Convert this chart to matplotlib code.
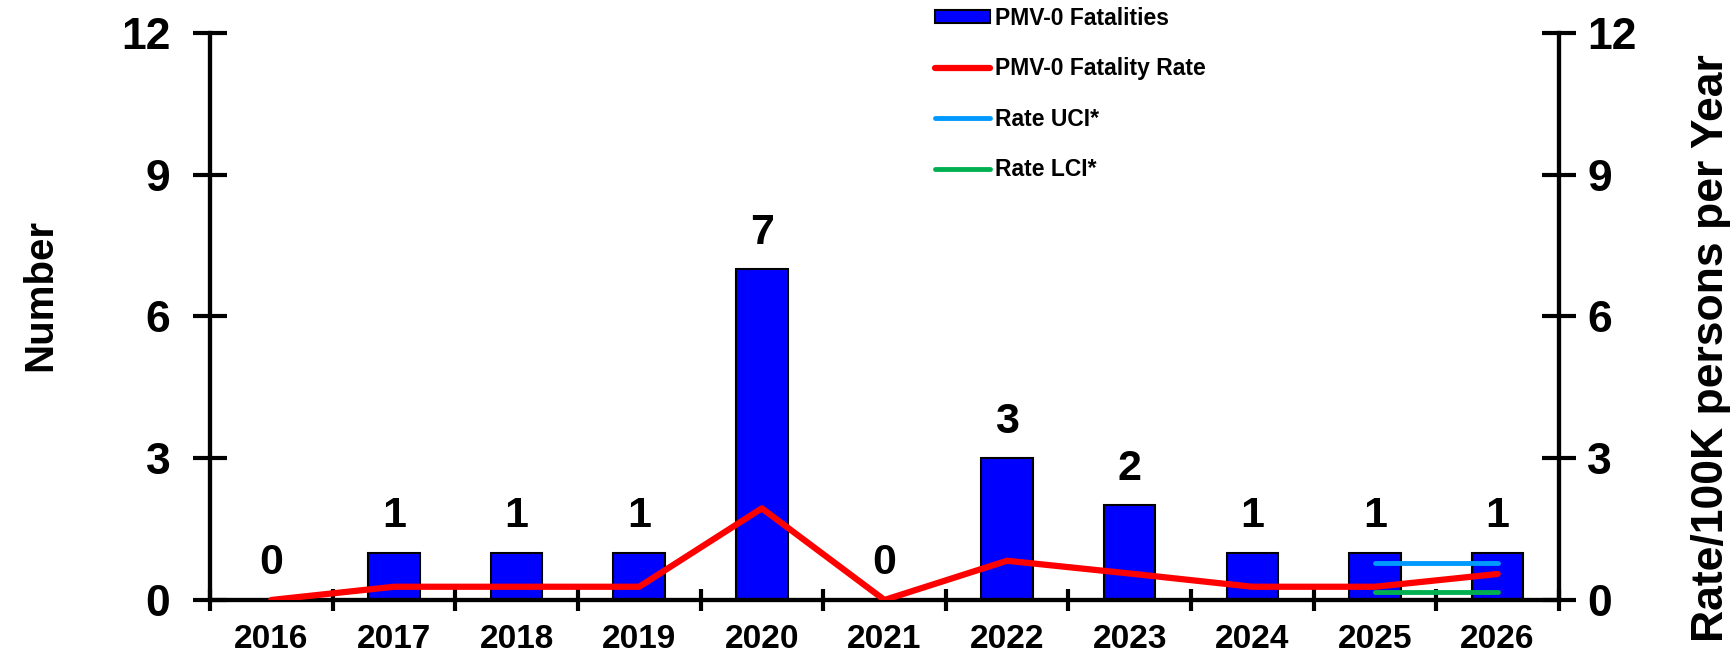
import matplotlib
matplotlib.use("Agg")
import matplotlib.pyplot as plt
import numpy as np

plt.rcParams['font.family'] = ['Liberation Sans', 'DejaVu Sans']
plt.rcParams['font.weight'] = 'bold'

years = ['2016', '2017', '2018', '2019', '2020', '2021', '2022', '2023', '2024', '2025', '2026']
fatalities = [0, 1, 1, 1, 7, 0, 3, 2, 1, 1, 1]
fatality_rate = [0.0, 0.28, 0.28, 0.28, 1.94, 0.0, 0.83, 0.56, 0.28, 0.28, 0.55]
ci_years = ['2025', '2026']
rate_uci = [0.78, 0.78]
rate_lci = [0.16, 0.16]

x = np.arange(len(years))
ci_x = [years.index(y) for y in ci_years]

fig = plt.figure(figsize=(17.31, 6.56), dpi=100)
ax = fig.add_axes([0.1213, 0.0854, 0.7793, 0.8643])
ax2 = ax.twinx()

bars = ax.bar(x, fatalities, width=0.42, color='#0000FF', edgecolor='black',
              linewidth=1.5, zorder=2, label='PMV-0 Fatalities')
for xi, v in zip(x, fatalities):
    ax.annotate(str(v), (xi, v), xytext=(0, 12), textcoords='offset points',
                ha='center', va='bottom', fontsize=31, fontweight='bold')

rate_line, = ax2.plot(x, fatality_rate, color='#FF0000', lw=4.5,
                      solid_capstyle='round', label='PMV-0 Fatality Rate', zorder=3)
uci_line, = ax2.plot(ci_x, rate_uci, color='#0099FF', lw=3.5,
                     solid_capstyle='round', label='Rate UCI*')
lci_line, = ax2.plot(ci_x, rate_lci, color='#00B050', lw=3.5,
                     solid_capstyle='round', label='Rate LCI*')

for a in (ax, ax2):
    a.set_xlim(-0.5, len(years) - 0.5)
    a.set_ylim(0, 12)
    a.set_yticks([0, 3, 6, 9, 12])
    a.spines['top'].set_visible(False)
    for s in a.spines.values():
        s.set_linewidth(3)

ax.set_xticks(x)
ax.set_xticklabels(years, fontsize=24, fontweight='bold')
ax.set_xticks(np.arange(-0.5, len(years)), minor=True)
ax.tick_params(axis='x', which='major', length=0, pad=17)
ax.tick_params(axis='x', which='minor', direction='inout', length=16, width=3)
ax.tick_params(axis='y', direction='inout', length=25, width=3, labelsize=32, pad=16)
ax2.tick_params(axis='y', direction='inout', length=25, width=3, labelsize=32, pad=8)
for lbl in ax.get_yticklabels() + ax2.get_yticklabels():
    lbl.set_fontweight('bold')

ax.set_ylabel('Number', fontsize=29, fontweight='bold')
ax.yaxis.set_label_coords(-0.112, 0.538)
ax2.set_ylabel('Rate/100K persons per Year', fontsize=32, fontweight='bold')
ax2.yaxis.set_label_coords(1.098, 0.444)

fig.legend(handles=[bars, rate_line, uci_line, lci_line],
           loc='upper left', bbox_to_anchor=(935 / 1731, 0.99), frameon=False,
           prop={'size': 16.5, 'weight': 'bold'}, handlelength=2.4, handleheight=0.5,
           handletextpad=0.2, labelspacing=1.2, borderpad=0, borderaxespad=0)

fig.savefig('out.png', dpi=100)
